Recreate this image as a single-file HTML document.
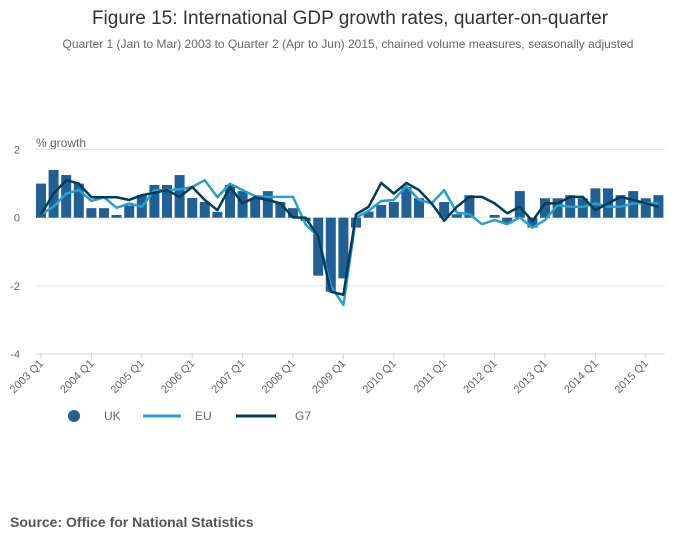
<!DOCTYPE html>
<html><head><meta charset="utf-8"><style>
body{margin:0;background:#fff;font-family:"Liberation Sans",sans-serif;}
#wrap{position:relative;width:700px;height:549px;overflow:hidden;}
</style></head><body>
<div id="wrap">
<svg id="chart" width="700" height="549">
<text x="350" y="24" text-anchor="middle" font-size="19" fill="#333">Figure 15: International GDP growth rates, quarter-on-quarter</text>
<text x="348" y="48" text-anchor="middle" font-size="12" fill="#666">Quarter 1 (Jan to Mar) 2003 to Quarter 2 (Apr to Jun) 2015, chained volume measures, seasonally adjusted</text>
<text x="36" y="147" font-size="12" fill="#666">% growth</text>
<g id="grid"></g><g id="bars"></g><g id="lines"></g><g id="xaxis"></g>
<g>
<circle cx="74" cy="416" r="6" fill="#206095"/>
<text x="104" y="420" font-size="12" fill="#666">UK</text>
<line x1="143" y1="416" x2="181" y2="416" stroke="#27a0cc" stroke-width="3"/>
<text x="195" y="420" font-size="12" fill="#666">EU</text>
<line x1="236" y1="416" x2="276" y2="416" stroke="#003c57" stroke-width="3"/>
<text x="295" y="420" font-size="12" fill="#666">G7</text>
</g>
<text x="10" y="527" font-size="14" font-weight="bold" fill="#555">Source: Office for National Statistics</text>
</svg>
</div>
<script>
const years = ["2003","2004","2005","2006","2007","2008","2009","2010","2011","2012","2013","2014","2015"];
const uk = [1.0,1.4,1.25,1.0,0.28,0.28,0.08,0.36,0.66,0.96,0.96,1.25,0.58,0.46,0.17,0.96,0.78,0.58,0.78,0.46,0.28,-0.1,-1.7,-2.17,-1.78,-0.29,0.18,0.37,0.46,0.9,0.57,0.0,0.46,0.1,0.66,0.0,0.08,-0.17,0.78,-0.29,0.57,0.57,0.66,0.57,0.86,0.86,0.66,0.78,0.57,0.66];
const eu = [0.1,0.32,0.71,0.81,0.49,0.6,0.29,0.42,0.32,0.81,0.81,0.83,0.9,1.1,0.6,1.0,0.81,0.63,0.61,0.61,0.61,-0.2,-0.55,-2.0,-2.56,0.0,0.2,0.49,0.52,0.93,0.52,0.42,0.81,0.15,0.1,-0.19,-0.07,-0.19,0.01,-0.29,-0.07,0.37,0.32,0.32,0.42,0.32,0.32,0.42,0.42,0.42];
const g7 = [0.1,0.71,1.1,1.0,0.6,0.6,0.6,0.52,0.66,0.73,0.81,0.61,0.9,0.52,0.22,0.9,0.42,0.6,0.52,0.42,0.01,0.0,-0.55,-2.17,-2.26,0.1,0.32,1.02,0.71,1.02,0.81,0.42,-0.09,0.32,0.61,0.61,0.42,0.13,0.32,-0.1,0.42,0.42,0.61,0.61,0.22,0.42,0.61,0.52,0.42,0.32];
const yTicks = [2,0,-2,-4];
const NS="http://www.w3.org/2000/svg";
const X0=41, STEP=12.6, Y0=217.7, PU=34.1;
const xS=i=>X0+i*STEP, yS=v=>Y0-v*PU;
function mk(t,a,p){const e=document.createElementNS(NS,t);for(const k in a)e.setAttribute(k,a[k]);p.appendChild(e);return e;}
const grid=document.getElementById('grid');
yTicks.forEach(v=>{
 const l=mk('line',{x1:36,x2:665,y1:yS(v),y2:yS(v),stroke:v===-4?'#ccd6eb':'#e4e4e4','stroke-width':1},grid);
 
 
 const t=mk('text',{x:20,y:yS(v)+4,'text-anchor':'end','font-size':11,fill:'#666'},grid);
 t.textContent=v;
 
 
});
const bars=document.getElementById('bars');
uk.forEach((v,i)=>{
 const y=Math.min(yS(v),Y0),h=Math.abs(yS(v)-Y0);
 const r=mk('rect',{x:xS(i)-5,y:y,width:10,height:Math.max(h,0.01),fill:'#206095'},bars);
 
 
});
const lines=document.getElementById('lines');
[[eu,'#27a0cc','line-eu'],[g7,'#003c57','line-g7']].forEach(([d,c,n])=>{
 const p=mk('polyline',{points:d.map((v,i)=>xS(i)+','+yS(v)).join(' '),fill:'none',stroke:c,'stroke-width':2.5,'stroke-linejoin':'round'},lines);
 
 
});
const xa=document.getElementById('xaxis');
years.forEach((y,k)=>{
 const x=xS(k*4);
 const tk=mk('line',{x1:x,x2:x,y1:353,y2:359,stroke:'#ccd6eb'},xa);
 
 
 const t=mk('text',{x:x+3,y:364,'text-anchor':'end','font-size':11,fill:'#666',transform:`rotate(-45 ${x+3} 364)`},xa);
 t.textContent=y+' Q1';
 
 
});
</script>
</body></html>
